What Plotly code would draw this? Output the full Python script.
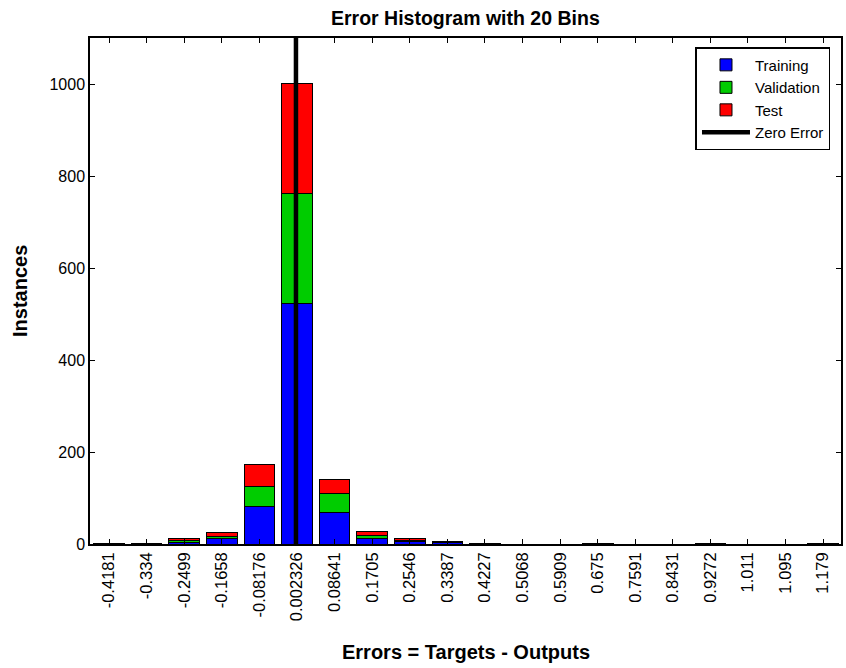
import plotly.graph_objects as go

# Bin centres of the error histogram (20 bins) and their tick labels
bin_centers = [-0.4181, -0.334, -0.2499, -0.1658, -0.08176, 0.002326, 0.08641,
               0.1705, 0.2546, 0.3387, 0.4227, 0.5068, 0.5909, 0.675, 0.7591,
               0.8431, 0.9272, 1.011, 1.095, 1.179]
tick_labels = ["-0.4181", "-0.334", "-0.2499", "-0.1658", "-0.08176", "0.002326",
               "0.08641", "0.1705", "0.2546", "0.3387", "0.4227", "0.5068",
               "0.5909", "0.675", "0.7591", "0.8431", "0.9272", "1.011",
               "1.095", "1.179"]

# Instance counts per bin for each data split
training = [1, 0, 4, 11, 82, 522, 68, 12, 5, 4, 0, 0, 0, 0, 0, 0, 0, 0, 0, 0]
validation = [0, 1, 4, 6, 42, 240, 41, 7, 3, 1, 1, 0, 0, 1, 0, 0, 0, 0, 0, 0]
test = [0, 0, 5, 8, 48, 239, 32, 8, 5, 1, 0, 0, 0, 0, 0, 0, 1, 0, 0, 1]

zero_error_x = [0, 0]
zero_error_y = [0, 1100]

FONT = "Liberation Sans, Arial, Helvetica, sans-serif"

fig = go.Figure()
for name, vals, color in [("Training", training, "#0000ff"),
                          ("Validation", validation, "#00cc00"),
                          ("Test", test, "#ff0000")]:
    fig.add_trace(go.Bar(
        x=bin_centers, y=vals, name=name,
        marker=dict(color=color, line=dict(color="black", width=1)),
    ))

fig.add_trace(go.Scatter(
    x=zero_error_x, y=zero_error_y, mode="lines", name="Zero Error",
    line=dict(color="black", width=4.5),
))

bin_width = bin_centers[1] - bin_centers[0]

fig.update_layout(
    width=846, height=668,
    margin=dict(l=90, r=3, t=38, b=124),
    plot_bgcolor="white", paper_bgcolor="white",
    barmode="stack", bargap=0.18,
    font=dict(family=FONT, size=16, color="black"),
    showlegend=True,
    legend=dict(
        x=0.986, y=0.982, xanchor="right", yanchor="top",
        bgcolor="white", bordercolor="black", borderwidth=1.5,
        font=dict(size=15), tracegroupgap=0, itemwidth=48,
        traceorder="normal",
    ),
    xaxis=dict(
        range=[bin_centers[0] - bin_width / 2 - 0.0005,
               bin_centers[-1] + bin_width / 2 - 0.002],
        tickmode="array", tickvals=bin_centers, ticktext=tick_labels,
        tickangle=-90, ticks="inside", ticklen=5, tickcolor="black",
        showline=True, linecolor="black", linewidth=1.5, mirror="allticks",
        showgrid=False, zeroline=False,
        tickfont=dict(size=16.5),
    ),
    yaxis=dict(
        range=[0, 1100],
        tickmode="array", tickvals=[0, 200, 400, 600, 800, 1000],
        ticks="inside", ticklen=5, tickcolor="black",
        showline=True, linecolor="black", linewidth=1.5, mirror="allticks",
        showgrid=False, zeroline=False,
        tickfont=dict(size=16),
    ),
    annotations=[
        dict(text="<b>Error Histogram with 20 Bins</b>", xref="paper", yref="paper",
             x=0.5, y=1, yanchor="middle", yshift=20, showarrow=False,
             font=dict(size=19.5)),
        dict(text="<b>Errors = Targets - Outputs</b>", xref="paper", yref="paper",
             x=0.5, y=0, yanchor="middle", yshift=-108, showarrow=False,
             font=dict(size=20)),
        dict(text="<b>Instances</b>", xref="paper", yref="paper",
             x=0, y=0.5, xanchor="center", xshift=-70, textangle=-90,
             showarrow=False, font=dict(size=20)),
    ],
)

fig.write_html("out.html")
